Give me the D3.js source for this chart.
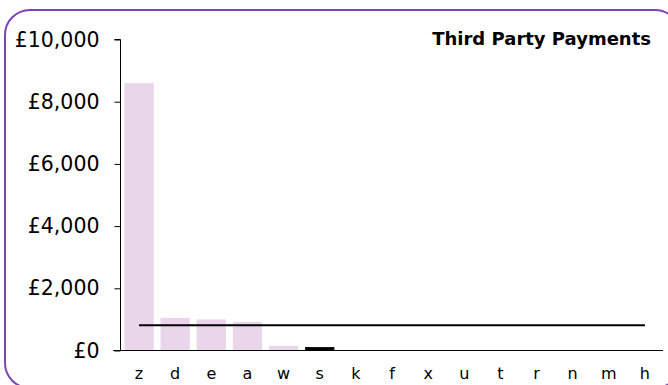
<!DOCTYPE html>
<html><head><meta charset="utf-8">
<script src="https://cdn.jsdelivr.net/npm/d3@7"></script>
<style>html,body{margin:0;padding:0;background:#fff;} svg{display:block;}</style>
</head><body>
<svg id="c" width="668" height="385"></svg>
<script>
const categories = ["z","d","e","a","w","s","k","f","x","u","t","r","n","m","h"];
const values = [8600,1050,1000,920,150,110,0,0,0,0,0,0,0,0,0];
const highlighted = ["s"];
const averageValue = 810;
const yTicks = [0,2000,4000,6000,8000,10000];
const title = "Third Party Payments";

const svg = d3.select("#c");
const font = "Verdana, 'DejaVu Sans', sans-serif";

svg.append("rect").attr("x",5).attr("y",10).attr("width",675).attr("height",378)
  .attr("rx",25).attr("ry",25).attr("fill","#fff").attr("stroke","#7e44b5").attr("stroke-width",2);

const x = d3.scaleBand().domain(categories).range([121,663]).paddingInner(0.19).paddingOuter(0.095);
const y = d3.scaleLinear().domain([0,10000]).range([350.5,39.5]);

svg.selectAll("rect.bar").data(categories).enter().append("rect")
  .attr("class","bar")
  .attr("x",d=>x(d)).attr("width",x.bandwidth())
  .attr("y",(d,i)=>y(values[i])).attr("height",(d,i)=>y(0)-y(values[i]))
  .attr("fill",d=>highlighted.includes(d)?"#000":"#e9d6ea");

// y axis
const yAxis = d3.axisLeft(y).tickValues(yTicks).tickSize(6).tickPadding(15)
  .tickFormat(d=>"£"+d3.format(",")(d));
const gy = svg.append("g").attr("transform","translate(120.5,0)").call(yAxis);
gy.select(".domain").attr("d","M-6,"+y(10000)+"H0V"+y(0)).attr("stroke","#000");
gy.selectAll("text").attr("font-family",font).attr("font-size",20.5).attr("fill","#000");

// x axis
const xAxis = d3.axisBottom(x).tickSize(0).tickPadding(17);
const gx = svg.append("g").attr("transform","translate(0,"+y(0)+")").call(xAxis);
gx.select(".domain").attr("d","M113,0H663").attr("stroke","#000");
gx.selectAll("text").attr("font-family",font).attr("font-size",16).attr("fill","#000");

// average line
const cx = d => x(d)+x.bandwidth()/2;
svg.append("line")
  .attr("x1",cx(categories[0])).attr("x2",cx(categories[categories.length-1]))
  .attr("y1",y(averageValue)).attr("y2",y(averageValue))
  .attr("stroke","#000").attr("stroke-width",2);

svg.append("text").attr("x",651).attr("y",45).attr("text-anchor","end")
  .attr("font-family",font).attr("font-weight","bold").attr("font-size",18).text(title);
</script>
</body></html>
